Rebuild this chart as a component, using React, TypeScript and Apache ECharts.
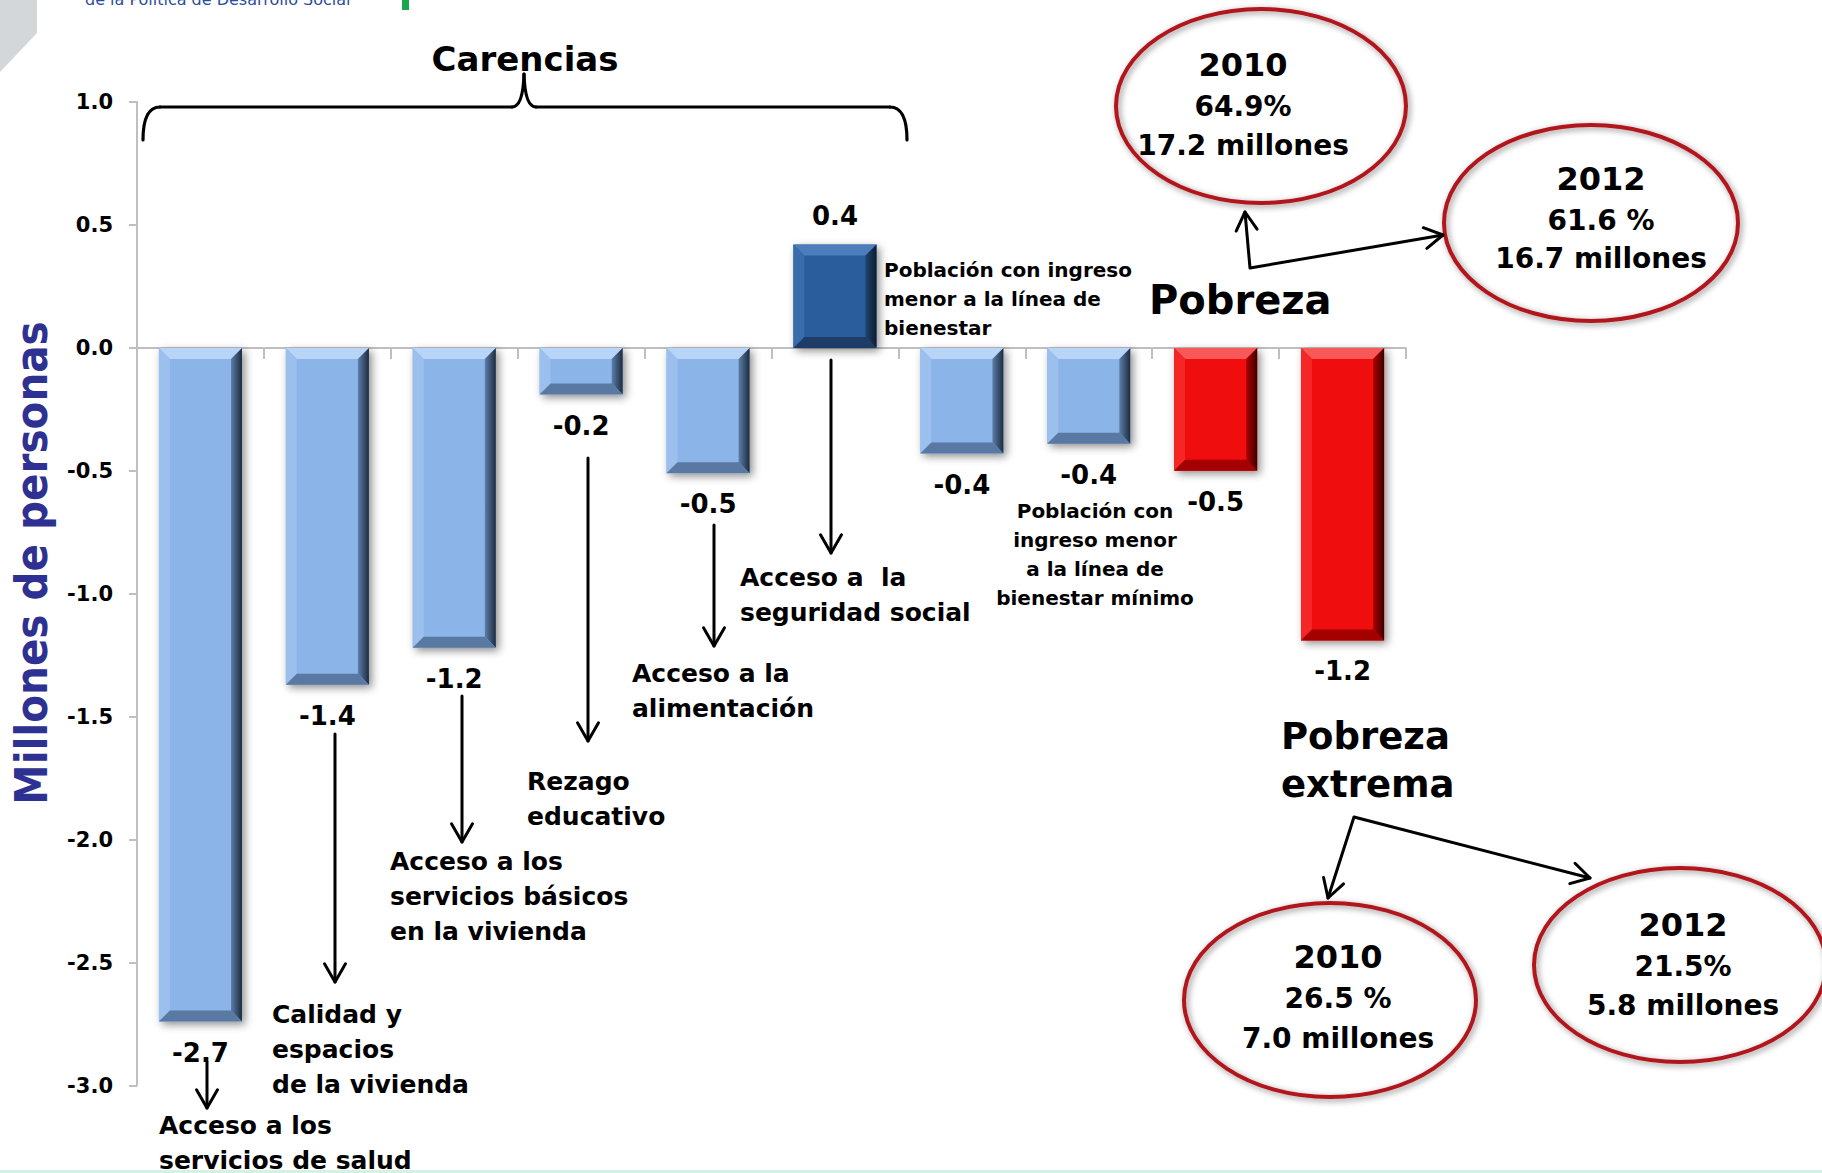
import React, { useEffect, useRef } from "react";
import * as echarts from "echarts";

// ---------------- DATA ----------------
const categories = [
  "Acceso a los servicios de salud",
  "Calidad y espacios de la vivienda",
  "Acceso a los servicios básicos en la vivienda",
  "Rezago educativo",
  "Acceso a la alimentación",
  "Acceso a la seguridad social",
  "Población con ingreso menor a la línea de bienestar",
  "Población con ingreso menor a la línea de bienestar mínimo",
  "Pobreza",
  "Pobreza extrema",
];
const groups = [
  "carencia", "carencia", "carencia", "carencia", "carencia", "carencia",
  "ingreso", "ingreso", "pobreza", "pobreza",
];
const values = [-2.74, -1.37, -1.22, -0.19, -0.51, 0.42, -0.43, -0.39, -0.5, -1.19];

const yMin = -3;
const yMax = 1;
const yInterval = 0.5;

const pobreza2010 = ["2010", "64.9%", "17.2 millones"];
const pobreza2012 = ["2012", "61.6 %", "16.7 millones"];
const extrema2010 = ["2010", "26.5 %", "7.0 millones"];
const extrema2012 = ["2012", "21.5%", "5.8 millones"];

// ---------------- STYLE HELPERS ----------------
const FONT = "'DejaVu Sans', 'Liberation Sans', sans-serif";
const FONT_COND = "'DejaVu Sans Condensed', 'Liberation Sans Narrow', 'DejaVu Sans', sans-serif";

type TxtOpts = {
  align?: string;
  va?: string;
  fill?: string;
  weight?: string;
  lh?: number;
  rotation?: number;
  family?: string;
};

function txt(text: string, x: number, y: number, size: number, o: TxtOpts = {}) {
  const align = o.align || "left";
  const va = o.va || "middle";
  return {
    type: "text",
    x,
    y,
    rotation: o.rotation || 0,
    silent: true,
    z: 50,
    style: {
      text,
      fill: o.fill || "#000",
      fontSize: size,
      fontFamily: o.family || FONT,
      fontWeight: o.weight || "bold",
      lineHeight: o.lh || Math.round(size * 1.2),
      align,
      verticalAlign: va,
      textAlign: align,
      textVerticalAlign: va,
    },
  };
}

const STROKE = { stroke: "#000", lineWidth: 3, fill: null as any, lineCap: "round", lineJoin: "round" };

function head(x1: number, y1: number, x2: number, y2: number) {
  const a = Math.atan2(y2 - y1, x2 - x1);
  const L = 21;
  const w = Math.PI / 6;
  return {
    type: "polyline",
    silent: true,
    z: 50,
    shape: {
      points: [
        [x2 - L * Math.cos(a - w), y2 - L * Math.sin(a - w)],
        [x2, y2],
        [x2 - L * Math.cos(a + w), y2 - L * Math.sin(a + w)],
      ],
    },
    style: { ...STROKE },
  };
}

function arrow(x1: number, y1: number, x2: number, y2: number) {
  return [
    { type: "line", silent: true, z: 50, shape: { x1, y1, x2, y2 }, style: { ...STROKE } },
    head(x1, y1, x2, y2),
  ];
}

function forkArrow(t1: number[], c: number[], t2: number[]) {
  return [
    { type: "polyline", silent: true, z: 50, shape: { points: [t1, c, t2] }, style: { ...STROKE } },
    head(c[0], c[1], t1[0], t1[1]),
    head(c[0], c[1], t2[0], t2[1]),
  ];
}

function bubble(cx: number, cy: number, rx: number, ry: number, tx: number, lines: string[], ys: number[]) {
  return [
    {
      type: "ellipse",
      silent: true,
      z: 40,
      shape: { cx, cy, rx, ry },
      style: {
        fill: null,
        stroke: "#B0161C",
        lineWidth: 4,
        shadowBlur: 6,
        shadowColor: "rgba(0,0,0,0.45)",
        shadowOffsetX: 2,
        shadowOffsetY: 2,
      },
    },
    txt(lines[0], tx, ys[0], 32, { align: "center" }),
    txt(lines[1], tx, ys[1], 28, { align: "center" }),
    txt(lines[2], tx, ys[2], 28, { align: "center" }),
  ];
}

function brace() {
  const s = { ...STROKE, lineWidth: 3.2 };
  return [
    { type: "bezierCurve", silent: true, shape: { x1: 143, y1: 140, cpx1: 143, cpy1: 107, x2: 160, y2: 107 }, style: s },
    { type: "line", silent: true, shape: { x1: 160, y1: 107, x2: 512, y2: 107 }, style: s },
    { type: "bezierCurve", silent: true, shape: { x1: 512, y1: 107, cpx1: 523, cpy1: 107, x2: 524, y2: 74 }, style: s },
    { type: "bezierCurve", silent: true, shape: { x1: 524, y1: 74, cpx1: 525, cpy1: 107, x2: 536, y2: 107 }, style: s },
    { type: "line", silent: true, shape: { x1: 536, y1: 107, x2: 890, y2: 107 }, style: s },
    { type: "bezierCurve", silent: true, shape: { x1: 890, y1: 107, cpx1: 907, cpy1: 107, x2: 907, y2: 140 }, style: s },
  ];
}

type Pal = { face: string; top: string; left: string; rightA: string; rightB: string; bottom: string };
const LIGHT: Pal = { face: "#8BB4E8", top: "#B8D4F6", left: "#9CC0EE", rightA: "#5C7EAA", rightB: "#1D2B3E", bottom: "#5978A2" };
const DARK: Pal = { face: "#2C5D9C", top: "#4C7EBD", left: "#3A6BAA", rightA: "#1F446F", rightB: "#0D1C30", bottom: "#1D3D68" };
const RED: Pal = { face: "#F00808", top: "#F85858", left: "#F42626", rightA: "#B00000", rightB: "#3A0000", bottom: "#A50000" };

function paletteFor(i: number, v: number): Pal {
  if (groups[i] === "pobreza") return RED;
  if (v > 0) return DARK;
  return LIGHT;
}

function renderBar(params: any, api: any) {
  const i = api.value(0) as number;
  const v = api.value(1) as number;
  const p0 = api.coord([i, 0]);
  const p1 = api.coord([i, v]);
  const bw = api.size([1, 0])[0] * 0.655;
  const cx = p0[0];
  const x0 = cx - bw / 2;
  const x1 = cx + bw / 2;
  const yt = Math.min(p0[1], p1[1]);
  const yb = Math.max(p0[1], p1[1]);
  const h = yb - yt;
  const b = Math.min(11, h / 2.3);
  const pal = paletteFor(i, v);
  const label = v.toFixed(1);
  return {
    type: "group",
    children: [
      {
        type: "rect",
        shape: { x: x0, y: yt, width: bw, height: h },
        style: {
          fill: pal.face,
          shadowBlur: 8,
          shadowColor: "rgba(0,0,0,0.45)",
          shadowOffsetX: 3,
          shadowOffsetY: 3,
        },
      },
      {
        type: "polygon",
        shape: { points: [[x0, yt], [x1, yt], [x1 - b, yt + b], [x0 + b, yt + b]] },
        style: { fill: pal.top },
      },
      {
        type: "polygon",
        shape: { points: [[x0, yt], [x0 + b, yt + b], [x0 + b, yb - b], [x0, yb]] },
        style: { fill: pal.left },
      },
      {
        type: "polygon",
        shape: { points: [[x1, yt], [x1, yb], [x1 - b, yb - b], [x1 - b, yt + b]] },
        style: {
          fill: {
            type: "linear", x: 0, y: 0, x2: 1, y2: 0,
            colorStops: [{ offset: 0, color: pal.rightA }, { offset: 1, color: pal.rightB }],
          },
        },
      },
      {
        type: "polygon",
        shape: { points: [[x0, yb], [x0 + b, yb - b], [x1 - b, yb - b], [x1, yb]] },
        style: { fill: pal.bottom },
      },
      {
        type: "text",
        x: cx,
        y: v < 0 ? yb + 31 : yt - 29,
        style: {
          text: label,
          fill: "#000",
          fontSize: 26,
          fontFamily: FONT,
          fontWeight: "bold",
          align: "center",
          verticalAlign: "middle",
          textAlign: "center",
          textVerticalAlign: "middle",
        },
      },
    ],
  };
}

// ---------------- GRAPHICS (annotations) ----------------
const graphics: any[] = [
  // header remnants
  { type: "polygon", silent: true, shape: { points: [[0, 0], [37, 0], [37, 33], [0, 72]] }, style: { fill: "#D4D7D9" } },
  { type: "rect", silent: true, shape: { x: 402, y: 0, width: 7, height: 10 }, style: { fill: "#1AA64A" } },
  txt("de la Política de Desarrollo Social", 85, 9, 16, { weight: "normal", fill: "#2B4C9B", va: "bottom" }),
  { type: "rect", silent: true, shape: { x: 0, y: 1170, width: 1822, height: 3 }, style: { fill: "#D3F2E3" } },

  // Carencias brace + title
  ...brace(),
  txt("Carencias", 525, 59, 34, { align: "center" }),

  // y-axis title
  txt("Millones de personas", 31, 563, 45, { align: "center", rotation: Math.PI / 2, fill: "#2E3192", family: FONT_COND }),

  // category annotations
  txt("Acceso a los\nservicios de salud", 159, 1143, 25, { lh: 35 }),
  ...arrow(207, 1062, 207, 1108),
  txt("Calidad y\nespacios\nde la vivienda", 272, 1049, 25, { lh: 35 }),
  ...arrow(335, 734, 335, 982),
  txt("Acceso a los\nservicios básicos\nen la vivienda", 390, 896, 25, { lh: 35 }),
  ...arrow(462, 696, 462, 842),
  txt("Rezago\neducativo", 527, 799, 25, { lh: 35 }),
  ...arrow(588, 458, 588, 741),
  txt("Acceso a la\nalimentación", 632, 691, 25, { lh: 35 }),
  ...arrow(714, 525, 714, 646),
  txt("Acceso a  la\nseguridad social", 740, 595, 25, { lh: 35 }),
  ...arrow(831, 360, 831, 553),
  txt("Población con ingreso\nmenor a la línea de\nbienestar", 884, 299, 20, { lh: 29 }),
  txt("Población con\ningreso menor\na la línea de\nbienestar mínimo", 1095, 554, 20, { lh: 29, align: "center" }),

  // Pobreza
  txt("Pobreza", 1149, 300, 40),
  ...forkArrow([1245, 212], [1250, 268], [1443, 235]),
  ...bubble(1261, 106, 145, 97, 1243, pobreza2010, [65, 106, 145]),
  ...bubble(1591, 223, 147, 98, 1601, pobreza2012, [179, 220, 258]),

  // Pobreza extrema
  txt("Pobreza\nextrema", 1281, 760, 37, { lh: 48 }),
  ...forkArrow([1328, 898], [1354, 817], [1590, 878]),
  ...bubble(1330, 1000, 146, 97, 1338, extrema2010, [957, 998, 1038]),
  ...bubble(1680, 965, 146, 97, 1683, extrema2012, [925, 966, 1005]),
];

// ---------------- OPTION ----------------
const option: any = {
  animation: false,
  backgroundColor: "#ffffff",
  grid: { left: 137, right: 416, top: 102, bottom: 87.5, containLabel: false },
  xAxis: {
    type: "category",
    data: categories,
    boundaryGap: true,
    axisLine: { show: true, onZero: true, lineStyle: { color: "#BFBFBF", width: 2 } },
    axisTick: { show: true, interval: 0, length: 11, lineStyle: { color: "#BFBFBF", width: 2 } },
    axisLabel: { show: false },
    splitLine: { show: false },
  },
  yAxis: {
    type: "value",
    min: yMin,
    max: yMax,
    interval: yInterval,
    axisLine: { show: true, lineStyle: { color: "#BFBFBF", width: 2 } },
    axisTick: { show: true, length: 8, lineStyle: { color: "#BFBFBF", width: 2 } },
    splitLine: { show: false },
    axisLabel: {
      margin: 24,
      color: "#000",
      fontSize: 21,
      fontWeight: "bold",
      fontFamily: FONT,
      formatter: (v: number) => v.toFixed(1),
    },
  },
  series: [
    {
      type: "custom",
      name: "Cambio 2010-2012",
      renderItem: renderBar,
      encode: { x: 0, y: 1 },
      data: values.map((v, i) => [i, v]),
      z: 10,
    },
  ],
  graphic: { elements: graphics },
};

export default function App() {
  const ref = useRef<HTMLDivElement>(null);
  useEffect(() => {
    if (!ref.current) return;
    const chart = echarts.init(ref.current, undefined, { renderer: "svg" });
    chart.setOption(option);
    return () => {
      chart.dispose();
    };
  }, []);
  return (
    <div
      ref={ref}
      style={{ position: "fixed", left: 0, top: 0, width: "1822px", height: "1173px", background: "#fff" }}
    />
  );
}
